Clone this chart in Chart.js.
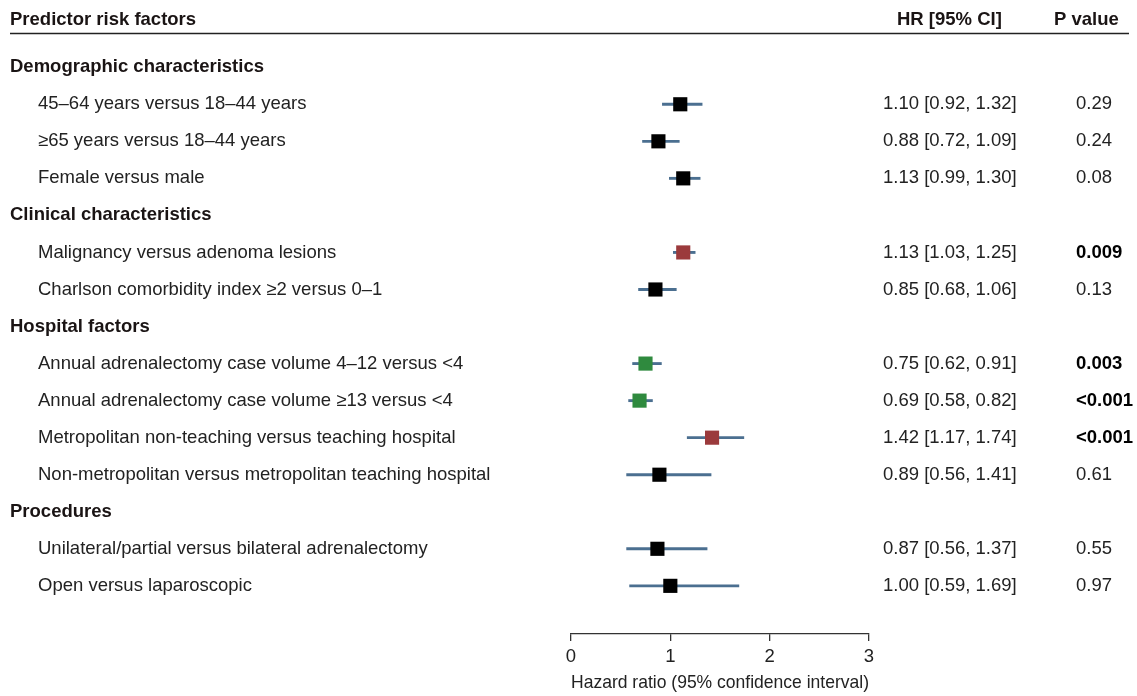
<!DOCTYPE html>
<html>
<head>
<meta charset="utf-8">
<script src="https://cdn.jsdelivr.net/npm/chart.js@4.4.1/dist/chart.umd.min.js"></script>
<style>
  html,body{margin:0;padding:0;background:#fff;}
  #wrap{width:1137px;height:696px;position:relative;}
</style>
</head>
<body>
<div id="wrap"><canvas id="forest" width="1137" height="696"></canvas></div>
<script>
// forest plot - predictores de riesgo
const groups = ['Demographic characteristics', 'Clinical characteristics', 'Hospital factors', 'Procedures'];
const groupSizes = [3, 2, 4, 2];
const factors = [
  '45\u201364 years versus 18\u201344 years',
  '\u226565 years versus 18\u201344 years',
  'Female versus male',
  'Malignancy versus adenoma lesions',
  'Charlson comorbidity index \u22652 versus 0\u20131',
  'Annual adrenalectomy case volume 4\u201312 versus <4',
  'Annual adrenalectomy case volume \u226513 versus <4',
  'Metropolitan non-teaching versus teaching hospital',
  'Non-metropolitan versus metropolitan teaching hospital',
  'Unilateral/partial versus bilateral adrenalectomy',
  'Open versus laparoscopic'
];
const hr    = [1.10, 0.88, 1.13, 1.13, 0.85, 0.75, 0.69, 1.42, 0.89, 0.87, 1.00];
const ciLow = [0.92, 0.72, 0.99, 1.03, 0.68, 0.62, 0.58, 1.17, 0.56, 0.56, 0.59];
const ciHigh= [1.32, 1.09, 1.30, 1.25, 1.06, 0.91, 0.82, 1.74, 1.41, 1.37, 1.69];
const pValues = ['0.29', '0.24', '0.08', '0.009', '0.13', '0.003', '<0.001', '<0.001', '0.61', '0.55', '0.97'];
const xTicks = [0, 1, 2, 3];

const FONT = '"Liberation Sans", Arial, sans-serif';
const FS = 18.5;
const C_SIG_UP = '#9b3a3c', C_SIG_DOWN = '#2f8a3e', C_NS = '#000000', C_CI = '#4b6f90';

// filas: cabecera de grupo + sus factores
const groupRow = [];
const factorRow = [];
(function(){
  let r = 0;
  groups.forEach((g, gi) => {
    groupRow.push(r); r++;
    for (let j = 0; j < groupSizes[gi]; j++){ factorRow.push(r); r++; }
  });
})();

function isSig(p){
  if (p.startsWith('<')) return true;
  return Number(p) < 0.05;
}
const markColors = hr.map((v, i) => !isSig(pValues[i]) ? C_NS : (v > 1 ? C_SIG_UP : C_SIG_DOWN));

const textPlugin = {
  id: 'forestText',
  afterDraw(chart){
    const ctx = chart.ctx;
    const ys = chart.scales.y;
    ctx.save();
    ctx.textBaseline = 'middle';
    // cabecera
    ctx.fillStyle = '#1a1414';
    ctx.font = 'bold ' + FS + 'px ' + FONT;
    ctx.textAlign = 'left';
    ctx.fillText('Predictor risk factors', 10, 20);
    ctx.fillText('HR [95% CI]', 897, 20);
    ctx.fillText('P value', 1054, 20);
    ctx.strokeStyle = '#222';
    ctx.lineWidth = 1.5;
    ctx.beginPath(); ctx.moveTo(10, 33.5); ctx.lineTo(1129, 33.5); ctx.stroke();
    // grupos
    groups.forEach((g, i) => ctx.fillText(g, 10, ys.getPixelForValue(groupRow[i])));
    // factores
    factors.forEach((f, i) => {
      const y = ys.getPixelForValue(factorRow[i]);
      ctx.font = FS + 'px ' + FONT;
      ctx.fillStyle = '#222';
      ctx.fillText(f, 38, y);
      ctx.fillText(hr[i].toFixed(2) + ' [' + ciLow[i].toFixed(2) + ', ' + ciHigh[i].toFixed(2) + ']', 883, y);
      ctx.font = (isSig(pValues[i]) ? 'bold ' : '') + FS + 'px ' + FONT;
      ctx.fillStyle = isSig(pValues[i]) ? '#000' : '#222';
      ctx.fillText(pValues[i], 1076, y);
    });
    ctx.restore();
  }
};

new Chart(document.getElementById('forest').getContext('2d'), {
  data: {
    datasets: [
      {
        type: 'bar',
        label: 'CI',
        data: factors.map((f, i) => ({ y: factorRow[i], x: [ciLow[i], ciHigh[i]] })),
        backgroundColor: C_CI,
        borderWidth: 0,
        barThickness: 2.2,
        order: 2
      },
      {
        type: 'scatter',
        label: 'HR',
        data: factors.map((f, i) => ({ x: hr[i], y: factorRow[i] })),
        pointStyle: 'rect',
        pointRadius: 10,
        pointBackgroundColor: markColors,
        pointBorderColor: markColors,
        pointBorderWidth: 0,
        order: 1
      }
    ]
  },
  options: {
    indexAxis: 'y',
    responsive: false,
    animation: false,
    layout: { padding: { left: 571, right: 268, top: 45, bottom: 2 } },
    plugins: { legend: { display: false }, tooltip: { enabled: false } },
    scales: {
      y: {
        type: 'linear', reverse: true, offset: false, min: -0.6, max: 15.3, display: false
      },
      x: {
        type: 'linear', min: 0, max: 3,
        afterBuildTicks: s => { s.ticks = xTicks.map(v => ({ value: v })); },
        afterFit: s => { s.height = 60; },
        grid: { drawOnChartArea: false, tickLength: 7, color: '#333', lineWidth: 1.3 },
        border: { display: true, color: '#333', width: 1.3 },
        ticks: { color: '#222', font: { family: FONT, size: FS }, padding: 5 },
        title: { display: true, text: 'Hazard ratio (95% confidence interval)', color: '#222', font: { family: FONT, size: FS }, padding: { top: 0, bottom: 0 } }
      }
    }
  },
  plugins: [textPlugin]
});
</script>
</body>
</html>
